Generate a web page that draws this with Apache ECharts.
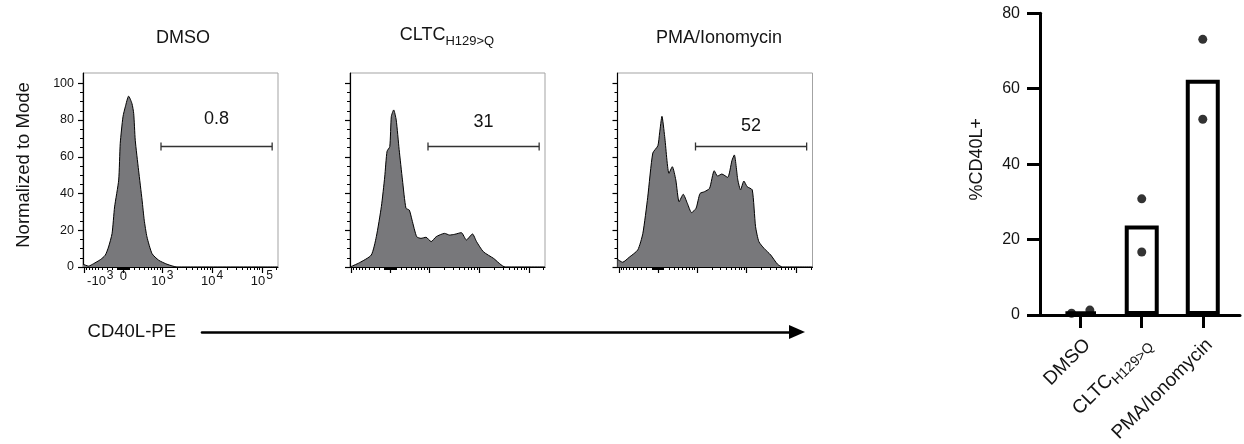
<!DOCTYPE html>
<html>
<head>
<meta charset="utf-8">
<script src="https://cdn.jsdelivr.net/npm/echarts@6/dist/echarts.min.js"></script>
<style>
html, body { margin: 0; padding: 0; background: #fff; }
#chart { width: 1244px; height: 444px; }
</style>
</head>
<body>
<div id="chart"></div>
<script>
const FONT = "'Liberation Sans', Arial, Helvetica, sans-serif"
const INK = '#141414'

// ---- flow histograms (x in display channels 0..1000, y in % of mode) ----
const panelNames = ['DMSO', '{a|CLTC}{b|H129>Q}', 'PMA/Ionomycin']
const panelLeft = [83, 350, 617.5]
const panelTitleX = [178, 442, 714]
const panelTitleTop = [24, 21, 24]

const dmsoX = [0, 29, 54, 89, 114, 131, 149, 162, 183, 191, 205, 217, 234, 251, 260, 268, 285, 303, 314, 328, 354, 388, 431, 482, 1000]
const dmsoY = [1.5, 0.5, 1.8, 4, 6.4, 10.9, 18.2, 32.7, 47.3, 67.3, 81.8, 87.2, 93, 89, 83.6, 69, 52.7, 36.4, 25.5, 16.4, 7.3, 3.7, 1.5, 0, 0]

const cltcX = [0, 48, 109, 135, 161, 178, 190, 204, 212, 224, 237, 252, 269, 287, 304, 318, 342, 364, 390, 416, 442, 485, 511, 537, 571, 597, 628, 649, 684, 736, 796, 1000]
const cltcY = [0, 2.3, 6.5, 16.5, 33, 49, 63, 65.5, 82, 85.5, 80, 64, 47.4, 32, 31, 25.6, 16.5, 15.6, 16.2, 13.8, 16.5, 18.3, 17.4, 17.8, 18.7, 14.7, 18, 13.8, 8.3, 4.7, 0, 0]

const pmaX = [0, 26, 60, 104, 130, 155, 181, 207, 216, 228, 242, 264, 281, 299, 316, 337, 358, 380, 403, 423, 446, 472, 496, 513, 535, 565, 587, 599, 617, 631, 648, 665, 691, 708, 725, 751, 786, 820, 846, 1000]
const pmaY = [4.2, 2.6, 5.3, 9.3, 18.3, 38, 62, 66, 73, 82, 71, 51, 54.6, 47.4, 35.5, 39.6, 34.7, 29.6, 32, 40, 41, 42.8, 52.4, 49.5, 50.6, 48.8, 58, 61, 47.4, 42, 46.8, 43.7, 42, 22, 13.8, 10.2, 6.5, 1.6, 0, 0]

const histX = [dmsoX, cltcX, pmaX]
const histY = [dmsoY, cltcY, pmaY]

const gatePct = ['0.8', '31', '52']
const gateFrom = 400
const gateTo = 970
const gateLevel = 65.6
const gateLabelY = [80.5, 79, 76.7]

const yMajorTicks = [0, 20, 40, 60, 80, 100]
const yMinorTicks = [5, 10, 15, 25, 30, 35, 45, 50, 55, 65, 70, 75, 85, 90, 95]

// fluorescence values for the biexponential tick marks
const xMajorValues = [-1000, 0, 1000, 10000, 100000]
const xMajorLabels = ['{n|-10}{s|3}', '{b|0}', '{b|10}{s|3}', '{b|10}{s|4}', '{b|10}{s|5}']
const xMinorValues = [
  -900, -800, -700, -600, -500, -400, -300, -200, -100,
  -90, -80, -70, -60, -50, -40, -30, -20, -10,
  10, 20, 30, 40, 50, 60, 70, 80, 90,
  100, 200, 300, 400, 500, 600, 700, 800, 900,
  2000, 3000, 4000, 5000, 6000, 7000, 8000, 9000,
  20000, 30000, 40000, 50000, 60000, 70000, 80000, 90000,
  200000
]

// ---- summary bar chart ----
const barCats = ['DMSO', '{a|CLTC}{b|H129>Q}', 'PMA/Ionomycin']
const barMeans = [0.9, 23.7, 62.4]
const rep1 = [0.45, 30.8, 73.1]
const rep2 = [1.3, 16.7, 51.9]
const rep1Shift = [-0.15, 0, 0]
const rep2Shift = [0.15, 0, 0]
const barTicks = [0, 20, 40, 60, 80]
const barLabelShift = 0.11

// biexponential-like display transform
const ZERO = 206.7, LIN = 200, DEC = 255, W = 400
function toChannel(v) {
  const s = v < 0 ? -1 : 1
  const a = Math.abs(v)
  if (a <= 1000) return ZERO + s * LIN * Math.asinh(a / W) / Math.asinh(1000 / W)
  return ZERO + s * (LIN + DEC * Math.log10(a / 1000))
}
const xMajorPos = xMajorValues.map(toChannel)
const xMinorPos = xMinorValues.map(toChannel)

const grids = []
const xAxes = []
const yAxes = []
const series = []
const titles = []

for (let p = 0; p < 3; p++) {
  grids.push({
    left: panelLeft[p], top: 73, width: 195, height: 194,
    show: true, borderColor: '#a3a3a3', borderWidth: 1,
    outerBoundsMode: 'none', containLabel: false
  })
  xAxes.push({
    gridIndex: p, type: 'value', position: 'bottom', min: 0, max: 1000,
    axisLine: { show: true, onZero: false, lineStyle: { color: '#000', width: 1.2 } },
    axisTick: { show: true, customValues: xMajorPos, length: 6, lineStyle: { color: '#000', width: 1.2 } },
    axisLabel: {
      show: p === 0, customValues: xMajorPos, margin: 3,
      formatter: function (val) {
        for (let i = 0; i < xMajorPos.length; i++) {
          if (Math.abs(xMajorPos[i] - val) < 1e-6) return xMajorLabels[i]
        }
        return ''
      },
      rich: {
        b: { fontSize: 13, color: INK, fontFamily: FONT, verticalAlign: 'bottom' },
        n: { fontSize: 13, color: INK, fontFamily: FONT, verticalAlign: 'bottom', padding: [0, 0, 0, 32] },
        s: { fontSize: 12, color: INK, fontFamily: FONT, verticalAlign: 'bottom', padding: [0, 0, 6, 1] }
      }
    },
    splitLine: { show: false }
  })
  xAxes.push({
    gridIndex: p, type: 'value', position: 'bottom', min: 0, max: 1000,
    axisLine: { show: false, onZero: false },
    axisTick: { show: true, customValues: xMinorPos, length: 3, lineStyle: { color: '#000', width: 1 } },
    axisLabel: { show: false },
    splitLine: { show: false }
  })
  yAxes.push({
    gridIndex: p, type: 'value', position: 'left', min: 0, max: 105.6,
    axisLine: { show: true, onZero: false, lineStyle: { color: '#000', width: 1.2 } },
    axisTick: { show: true, customValues: yMajorTicks, length: 5, lineStyle: { color: '#000', width: 1.2 } },
    axisLabel: { show: p === 0, customValues: yMajorTicks, fontSize: 12.5, margin: 9, color: INK, fontFamily: FONT },
    splitLine: { show: false },
    name: p === 0 ? 'Normalized to Mode' : '',
    nameLocation: 'middle', nameRotate: 90, nameGap: 50, nameMoveOverlap: false,
    nameTextStyle: { fontSize: 18.5, color: INK, fontFamily: FONT, padding: [0, 0, 0, 10] }
  })
  yAxes.push({
    gridIndex: p, type: 'value', position: 'left', min: 0, max: 105.6,
    axisLine: { show: false, onZero: false },
    axisTick: { show: true, customValues: yMinorTicks, length: 3, lineStyle: { color: '#000', width: 1 } },
    axisLabel: { show: false },
    splitLine: { show: false }
  })
  series.push({
    type: 'line', xAxisIndex: 2 * p, yAxisIndex: 2 * p,
    data: histX[p].map((x, i) => [x, histY[p][i]]),
    symbol: 'none', smooth: 0.2, silent: true,
    lineStyle: { color: '#000', width: 1 },
    areaStyle: { color: '#78787b', opacity: 1 }
  })
  series.push({
    type: 'custom', xAxisIndex: 2 * p, yAxisIndex: 2 * p,
    data: [[gateFrom, gateTo, gateLevel, gateLabelY[p]]],
    silent: true, z: 5,
    renderItem: function (params, api) {
      const a = api.coord([api.value(0), api.value(2)])
      const b = api.coord([api.value(1), api.value(2)])
      const t = api.coord([(api.value(0) + api.value(1)) / 2, api.value(3)])
      const st = { stroke: '#333', lineWidth: 1.3 }
      return {
        type: 'group',
        children: [
          { type: 'line', shape: { x1: a[0], y1: a[1], x2: b[0], y2: b[1] }, style: st },
          { type: 'line', shape: { x1: a[0], y1: a[1] - 4, x2: a[0], y2: a[1] + 4 }, style: st },
          { type: 'line', shape: { x1: b[0], y1: b[1] - 4, x2: b[0], y2: b[1] + 4 }, style: st },
          {
            type: 'text', x: t[0], y: t[1],
            style: { text: gatePct[p], fill: INK, fontSize: 18, fontFamily: FONT, align: 'center', verticalAlign: 'middle' }
          }
        ]
      }
    }
  })
  titles.push({
    text: panelNames[p], left: panelTitleX[p], top: panelTitleTop[p], textAlign: 'center',
    textStyle: {
      fontSize: 18, fontWeight: 'normal', color: INK, fontFamily: FONT,
      rich: {
        a: { fontSize: 18, color: INK, fontFamily: FONT, verticalAlign: 'bottom', padding: [0, 0, 4, 0] },
        b: { fontSize: 13, color: INK, fontFamily: FONT, verticalAlign: 'bottom' }
      }
    }
  })
}

// bar chart grid (index 3)
grids.push({ left: 1040, top: 13.3, width: 200, height: 301.7, outerBoundsMode: 'none', containLabel: false })
xAxes.push({
  gridIndex: 3, type: 'value', position: 'bottom', min: -0.667, max: 2.61,
  axisLine: { show: true, onZero: false, lineStyle: { color: '#000', width: 3 } },
  axisTick: { show: true, customValues: [0, 1, 2], length: 13, lineStyle: { color: '#000', width: 3 } },
  axisLabel: {
    customValues: [barLabelShift, 1 + barLabelShift, 2 + barLabelShift],
    rotate: 45, margin: 27, fontSize: 19, color: INK, fontFamily: FONT,
    formatter: function (val) { return barCats[Math.round(val - barLabelShift)] },
    rich: {
      a: { fontSize: 19, color: INK, fontFamily: FONT, verticalAlign: 'bottom', padding: [0, 0, 4, 0] },
      b: { fontSize: 14, color: INK, fontFamily: FONT, verticalAlign: 'bottom' }
    }
  },
  splitLine: { show: false }
})
yAxes.push({
  gridIndex: 3, type: 'value', position: 'left', min: 0, max: 80, interval: 20,
  axisLine: { show: true, onZero: false, lineStyle: { color: '#000', width: 3 } },
  axisTick: { show: true, customValues: barTicks, length: 13, lineStyle: { color: '#000', width: 3 } },
  axisLabel: { customValues: barTicks, fontSize: 16, margin: 20, color: INK, fontFamily: FONT },
  splitLine: { show: false },
  name: '%CD40L+', nameLocation: 'middle', nameRotate: 90, nameGap: 54, nameMoveOverlap: false,
  nameTextStyle: { fontSize: 18, color: INK, fontFamily: FONT, padding: [0, 0, 0, 10] }
})
series.push({
  type: 'bar', xAxisIndex: 6, yAxisIndex: 6,
  data: barMeans.map((m, i) => [i, m]),
  barWidth: 34, silent: true,
  itemStyle: { color: '#fff', borderColor: '#000', borderWidth: 4 }
})
series.push({
  type: 'scatter', xAxisIndex: 6, yAxisIndex: 6, z: 4,
  data: rep1.map((v, i) => [i + rep1Shift[i], v]).concat(rep2.map((v, i) => [i + rep2Shift[i], v])),
  symbol: 'circle', symbolSize: 9, silent: true,
  itemStyle: { color: '#000' }
})

// CD40L-PE arrow (grid index 4)
grids.push({ left: 202, top: 331, width: 595, height: 1, outerBoundsMode: 'none', containLabel: false })
xAxes.push({
  gridIndex: 4, type: 'value', position: 'bottom', min: 0, max: 1,
  axisLine: { show: true, onZero: false, symbol: ['none', 'triangle'], symbolSize: [14, 16], lineStyle: { color: '#000', width: 2.6 } },
  axisTick: { show: false }, axisLabel: { show: false }, splitLine: { show: false },
  name: 'CD40L-PE', nameLocation: 'start', nameGap: 26,
  nameTextStyle: { fontSize: 18.5, color: INK, fontFamily: FONT, verticalAlign: 'middle' }
})
yAxes.push({ gridIndex: 4, type: 'value', show: false, min: 0, max: 1 })

const chart = echarts.init(document.getElementById('chart'))
chart.setOption({
  animation: false,
  backgroundColor: '#fff',
  textStyle: { fontFamily: FONT },
  title: titles,
  grid: grids,
  xAxis: xAxes,
  yAxis: yAxes,
  series: series
})
</script>
</body>
</html>
